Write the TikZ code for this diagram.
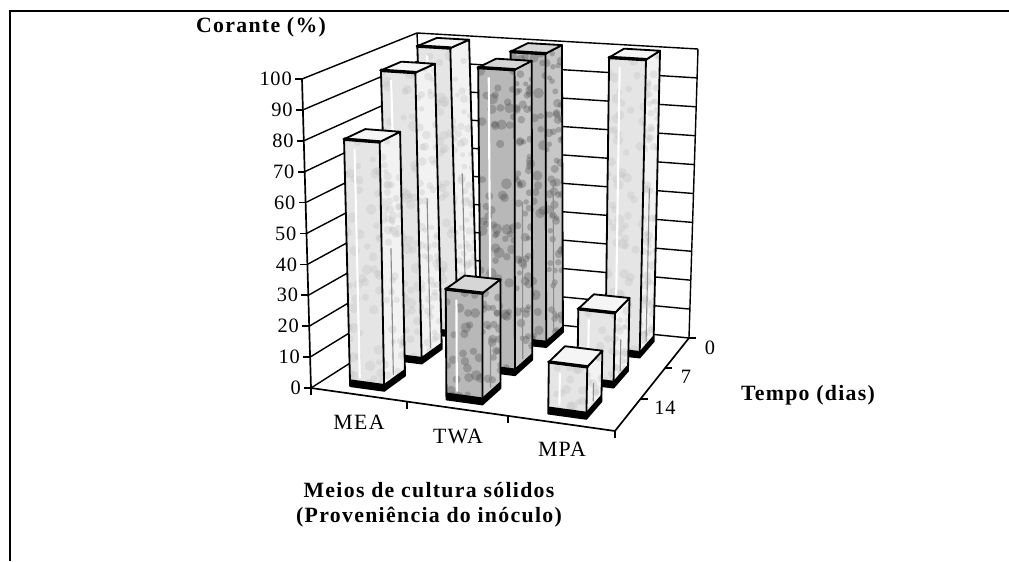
\documentclass[tikz,border=0pt]{standalone}
\usepackage{fontspec}
\setmainfont{Liberation Serif}
\newfontfamily\lsfont[LetterSpace=6]{Liberation Serif}
\newfontfamily\numfont[LetterSpace=4]{Liberation Serif}
\usetikzlibrary{calc}

% perspective-like (trilinear) mapping: u across media, w depth (0 front, 1 back), h value 0..100
\newcommand\mkcorner[4]{%
  \pgfmathsetmacro\zU{0.92*(#2)/(1-0.08*(#2))}%
  \pgfmathsetmacro\zW{1.06*(#3)/(1+0.06*(#3))}%
  \pgfmathsetmacro\zH{(#4)/100}%
  \pgfmathsetmacro\zA{(1-\zU)*(1-\zW)}%
  \pgfmathsetmacro\zB{\zU*(1-\zW)}%
  \pgfmathsetmacro\zC{\zU*\zW}%
  \pgfmathsetmacro\zD{(1-\zU)*\zW}%
  \pgfmathsetmacro\zX{(1-\zH)*(\zA*311+\zB*615+\zC*689+\zD*430)+\zH*(\zA*302+\zB*623+\zC*698+\zD*417)}%
  \pgfmathsetmacro\zY{(1-\zH)*(\zA*388+\zB*431+\zC*338+\zD*312)+\zH*(\zA*79+\zB*100+\zC*49+\zD*33)}%
  \coordinate (#1) at (\zX,\zY);%
}

\newcommand\drawbar[5]{%
  \pgfmathsetmacro\bUa{(#2+0.5)/3-0.06}%
  \pgfmathsetmacro\bUb{(#2+0.5)/3+0.06}%
  \pgfmathsetmacro\bUs{(#2+0.5)/3-0.025}%
  \pgfmathsetmacro\bWa{(#3+0.5)/3-0.0917}%
  \pgfmathsetmacro\bWb{(#3+0.5)/3+0.0917}%
  \pgfmathsetmacro\bWs{(#3+0.5)/3-0.01}%
  \pgfmathtruncatemacro\bN{#4*0.55+6}%
  \mkcorner{#1flb}{\bUa}{\bWa}{0}%
  \mkcorner{#1frb}{\bUb}{\bWa}{0}%
  \mkcorner{#1brb}{\bUb}{\bWb}{0}%
  \mkcorner{#1fld}{\bUa}{\bWa}{2.2}%
  \mkcorner{#1frd}{\bUb}{\bWa}{2.2}%
  \mkcorner{#1brd}{\bUb}{\bWb}{2.2}%
  \mkcorner{#1flt}{\bUa}{\bWa}{#4}%
  \mkcorner{#1frt}{\bUb}{\bWa}{#4}%
  \mkcorner{#1brt}{\bUb}{\bWb}{#4}%
  \mkcorner{#1blt}{\bUa}{\bWb}{#4}%
  \mkcorner{#1sa}{\bUs}{\bWa}{3}%
  \mkcorner{#1sb}{\bUs}{\bWa}{#4-3}%
  \mkcorner{#1ta}{\bUb}{\bWs}{3}%
  \mkcorner{#1tb}{\bUb}{\bWs}{0.55*#4}%
  \fill[#5front] (#1flb) -- (#1frb) -- (#1frt) -- (#1flt) -- cycle;
  \begin{scope}
    \clip (#1flb) -- (#1frb) -- (#1frt) -- (#1flt) -- cycle;
    \foreach \k in {1,...,\bN}{
      \pgfmathsetmacro\rU{\bUa+0.12*rnd}
      \pgfmathsetmacro\rH{(#4)*rnd}
      \pgfmathsetmacro\rR{3+2.5*rnd}
      \mkcorner{tmpdot}{\rU}{\bWa}{\rH}
      \fill[#5dot] (tmpdot) circle[radius=\rR];
    }
  \end{scope}
  \fill[#5side] (#1frb) -- (#1brb) -- (#1brt) -- (#1frt) -- cycle;
  \begin{scope}
    \clip (#1frb) -- (#1brb) -- (#1brt) -- (#1frt) -- cycle;
    \foreach \k in {1,...,\bN}{
      \pgfmathsetmacro\rW{\bWa+0.1834*rnd}
      \pgfmathsetmacro\rH{(#4)*rnd}
      \pgfmathsetmacro\rR{2.5+2*rnd}
      \mkcorner{tmpdot}{\bUb}{\rW}{\rH}
      \fill[#5dot] (tmpdot) circle[radius=\rR];
    }
  \end{scope}
  \draw[white, line width=1.5pt] (#1sa) -- (#1sb);
  \draw[black!45, line width=0.8pt] (#1ta) -- (#1tb);
  \fill[black] (#1flb) -- (#1frb) -- (#1brb) -- (#1brd) -- (#1frd) -- (#1fld) -- cycle;
  \draw[barline] (#1flb) -- (#1frb) -- (#1frt) -- (#1flt) -- cycle;
  \draw[barline] (#1frb) -- (#1brb) -- (#1brt) -- (#1frt);
  \filldraw[#5top, barline] (#1flt) -- (#1frt) -- (#1brt) -- (#1blt) -- cycle;
  \draw[line width=2.4pt, line cap=round] (#1flt) -- (#1frt);
}

\begin{document}
\begin{tikzpicture}[x=0.025cm, y=-0.025cm,
  grid/.style={line width=1pt},
  axisline/.style={line width=1.2pt},
  frameline/.style={line width=1.5pt},
  barline/.style={line width=1.3pt, line join=round},
  ltfront/.style={fill=black!10},
  ltside/.style={fill=black!5},
  lttop/.style={fill=black!4},
  ltdot/.style={fill=black!25, fill opacity=0.3},
  dkfront/.style={fill=black!28},
  dkside/.style={fill=black!22},
  dktop/.style={fill=black!16},
  dkdot/.style={fill=black!70, fill opacity=0.32},
  lab/.style={font={\lsfont\fontsize{15.5}{18}\selectfont}, inner sep=0pt},
  num/.style={font={\numfont\fontsize{14.5}{17}\selectfont}, inner sep=0pt},
  title/.style={font={\lsfont\bfseries\fontsize{15.5}{18}\selectfont}, inner sep=0pt}]
\useasboundingbox (0,0) rectangle (1009,561);
\pgfmathsetseed{11}

% outer frame (top and left sides)
\coordinate (fbl) at (10,561);
\coordinate (ftl) at (10,11);
\coordinate (ftr) at (1009,11);
\draw[frameline] (fbl) -- (ftl) -- (ftr);

% walls and gridlines
\foreach \h in {0,10,...,100}{
  \mkcorner{A\h}{0}{0}{\h}
  \mkcorner{D\h}{0}{1}{\h}
  \mkcorner{C\h}{1}{1}{\h}
  \draw[grid] (A\h) -- (D\h) -- (C\h);
  \draw[axisline] (A\h) -- ++(-7,0);
  \node[num, anchor=east] (vl\h) at ($(A\h)+(-10,0)$) {\h};
}
\mkcorner{B0}{1}{0}{0}
\draw[axisline] (A0) -- (A100);
\draw[grid] (D0) -- (D100);
\draw[grid] (C0) -- (C100);
\draw[axisline] (A0) -- (B0) -- (C0);

% category ticks
\mkcorner{X1}{1/3}{0}{0}
\mkcorner{X2}{2/3}{0}{0}
\foreach \t in {A0,X1,X2,B0}{ \draw[axisline] (\t) -- ++(0,7); }
% depth ticks
\mkcorner{Z1}{1}{1/3}{0}
\mkcorner{Z2}{1}{2/3}{0}
\foreach \t in {Z1,Z2,C0}{ \draw[axisline] (\t) -- ++(7,0); }

% bars: back row (0 dias), middle (7), front (14)
\drawbar{m0}{0}{2}{100}{lt}
\drawbar{t0}{1}{2}{100}{dk}
\drawbar{p0}{2}{2}{100}{lt}
\drawbar{m7}{0}{1}{97}{lt}
\drawbar{t7}{1}{1}{100}{dk}
\drawbar{p7}{2}{1}{24}{lt}
\drawbar{m14}{0}{0}{80}{lt}
\drawbar{t14}{1}{0}{35}{dk}
\drawbar{p14}{2}{0}{16}{lt}

% labels
\node[title] (ytitle) at (261,27) {Corante (\%)};
\node[lab] (cMEA) at (359,422) {MEA};
\node[lab] (cTWA) at (458,436) {TWA};
\node[lab] (cMPA) at (562,449) {MPA};
\node[num] (d0) at (710,348) {0};
\node[num] (d7) at (686,377) {7};
\node[num] (d14) at (665,408) {14};
\node[title] (ztitle) at (808,395) {Tempo (dias)};
\node[title] (xtitle1) at (429,490) {Meios de cultura sólidos};
\node[title] (xtitle2) at (429,517) {(Proveniência do inóculo)};
\end{tikzpicture}
\end{document}
